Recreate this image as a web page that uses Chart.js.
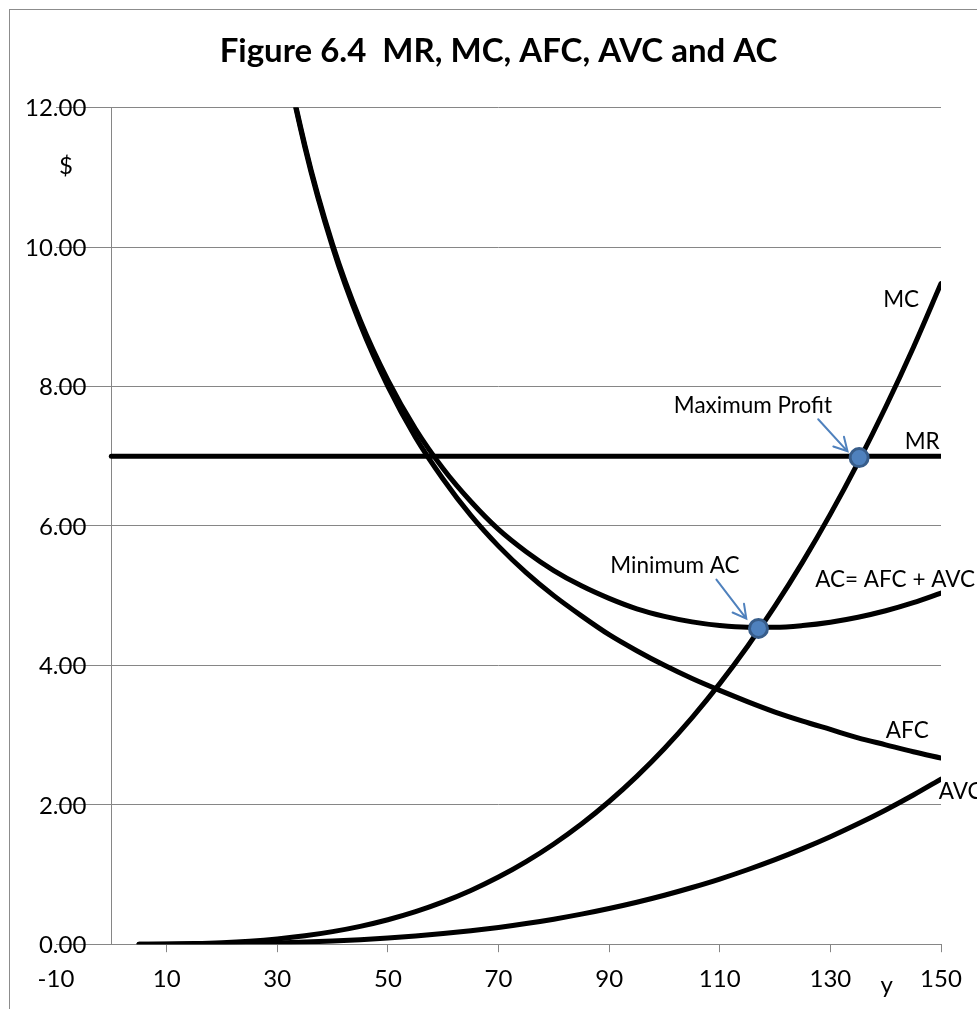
<!DOCTYPE html>
<html>
<head>
<meta charset="utf-8">
<script src="https://cdn.jsdelivr.net/npm/chart.js@4.4.1/dist/chart.umd.min.js"></script>
<style>
  html, body { margin: 0; padding: 0; background: #fff; }
  #wrap { position: relative; width: 977px; height: 1009px; }
</style>
</head>
<body>
<div id="wrap"><canvas id="c" width="977" height="1009"></canvas></div>
<script>
// Output levels y
const outputY = [5,10,15,20,25,30,35,40,45,50,55,60,65,70,75,80,85,90,95,100,105,110,115,120,125,130,135,140,145,150];
// Marginal cost
const mcValues = [0.0004,0.0028,0.0095,0.0225,0.0439,0.0758,0.120,0.180,0.256,0.351,0.467,0.607,0.771,0.963,1.185,1.438,1.724,2.047,2.408,2.808,3.251,3.738,4.271,4.852,5.484,6.169,6.909,7.705,8.560,9.477];
// Average variable cost
const avcValues = [0.0001,0.0007,0.0024,0.0056,0.011,0.019,0.030,0.045,0.064,0.088,0.117,0.152,0.193,0.241,0.296,0.359,0.431,0.512,0.602,0.702,0.813,0.934,1.068,1.213,1.371,1.542,1.727,1.926,2.140,2.369];
// Average fixed cost
const afcValues = [80,40,26.67,20,16,13.33,11.43,10,8.89,8,7.27,6.67,6.15,5.71,5.33,5,4.71,4.44,4.21,4,3.81,3.64,3.48,3.33,3.2,3.08,2.96,2.86,2.76,2.67];
// Average cost
const acValues = [80.0,40.0,26.67,20.01,16.01,13.35,11.46,10.04,8.95,8.09,7.39,6.82,6.35,5.95,5.63,5.36,5.14,4.96,4.81,4.702,4.623,4.570,4.546,4.546,4.571,4.619,4.690,4.783,4.899,5.036];
// Marginal revenue (flat)
const mrX = [0,150];
const mrValues = [7,7];
// Highlighted points: maximum profit, minimum AC
const keyPointX = [135.2, 117.0];
const keyPointY = [6.98, 4.53];
// Axis ticks
const xTickValues = [-10,10,30,50,70,90,110,130,150];
const yTickValues = [0,2,4,6,8,10,12];

const titleText = 'Figure 6.4  MR, MC, AFC, AVC and AC';

// Text annotations (data coordinates of anchor, alphabetic baseline)
const annoTexts = ['MC','MR','Maximum Profit','Minimum AC','AC= AFC + AVC','AFC','AVC','$','y'];
const annoX =     [142.8,146.6,116.0,101.9,141.7,143.9,149.6,-8.2,140.2];
const annoY =     [9.14, 7.11, 7.62, 5.32, 5.12, 2.96, 2.08, 11.05,-0.70];
const annoAlign = ['center','center','center','center','center','center','left','center','center'];

// Arrows (from -> to, data coordinates)
const arrowFromX = [127.8,109.4];
const arrowFromY = [7.53,5.23];
const arrowToX =   [133.1,114.8];
const arrowToY =   [7.07,4.67];

const FONT = 'Lato, "Open Sans", sans-serif';
const GRID = '#868686';

function pts(xs, ys){ return xs.map((x,i)=>({x:x, y:ys[i]})); }

const lineStyle = {
  type: 'line', showLine: true, borderColor: '#000', borderWidth: 5,
  pointRadius: 0, pointHoverRadius: 0, fill: false,
  cubicInterpolationMode: 'monotone', borderCapStyle: 'round', borderJoinStyle: 'round', order: 1
};

const framePlugin = {
  id: 'frame',
  beforeDraw(chart){
    const ctx = chart.ctx;
    ctx.save();
    ctx.fillStyle = '#fff';
    ctx.fillRect(0,0,chart.width,chart.height);
    ctx.strokeStyle = '#8c8c8c';
    ctx.lineWidth = 1;
    ctx.strokeRect(9.5, 9.5, chart.width + 20, chart.height + 20);
    ctx.restore();
  }
};

const annoPlugin = {
  id: 'anno',
  afterDatasetsDraw(chart){
    const ctx = chart.ctx, xs = chart.scales.x, ys = chart.scales.y;
    ctx.save();
    ctx.strokeStyle = '#4F81BD';
    ctx.lineWidth = 2;
    ctx.lineCap = 'round';
    for (let i = 0; i < arrowFromX.length; i++) {
      const x1 = xs.getPixelForValue(arrowFromX[i]), y1 = ys.getPixelForValue(arrowFromY[i]);
      const x2 = xs.getPixelForValue(arrowToX[i]), y2 = ys.getPixelForValue(arrowToY[i]);
      const ang = Math.atan2(y2 - y1, x2 - x1);
      const L = 15, w = 0.5;
      ctx.beginPath();
      ctx.moveTo(x1, y1); ctx.lineTo(x2, y2);
      ctx.moveTo(x2 - L*Math.cos(ang - w), y2 - L*Math.sin(ang - w));
      ctx.lineTo(x2, y2);
      ctx.lineTo(x2 - L*Math.cos(ang + w), y2 - L*Math.sin(ang + w));
      ctx.stroke();
    }
    ctx.restore();
  },
  afterDraw(chart){
    const ctx = chart.ctx, xs = chart.scales.x, ys = chart.scales.y;
    ctx.save();
    ctx.fillStyle = '#000';
    // y-axis tick labels, right-aligned left of the plot, on the gridlines
    ctx.font = '24px ' + FONT;
    ctx.textAlign = 'right';
    ctx.textBaseline = 'middle';
    const labelRight = xs.getPixelForValue(0) - 25;
    yTickValues.forEach(v => ctx.fillText(v.toFixed(2), labelRight, ys.getPixelForValue(v) + 1));
    // annotations
    ctx.textBaseline = 'alphabetic';
    for (let i = 0; i < annoTexts.length; i++) {
      ctx.font = (annoTexts[i] === '$' || annoTexts[i] === 'y' ? '24px ' : '22.5px ') + FONT;
      ctx.textAlign = annoAlign[i];
      ctx.fillText(annoTexts[i], xs.getPixelForValue(annoX[i]), ys.getPixelForValue(annoY[i]));
    }
    ctx.restore();
  }
};

new Chart(document.getElementById('c'), {
  type: 'scatter',
  data: {
    datasets: [
      { label: 'Key points', type: 'scatter', data: pts(keyPointX, keyPointY), pointRadius: 9, pointHoverRadius: 9,
        pointBackgroundColor: '#4F81BD', pointBorderColor: '#385D8A', pointBorderWidth: 3, showLine: false, order: 0 },
      Object.assign({ label: 'MR', data: pts(mrX, mrValues) }, lineStyle, {cubicInterpolationMode: 'default', tension: 0}),
      Object.assign({ label: 'MC', data: pts(outputY, mcValues) }, lineStyle),
      Object.assign({ label: 'AC', data: pts(outputY, acValues) }, lineStyle),
      Object.assign({ label: 'AFC', data: pts(outputY, afcValues) }, lineStyle),
      Object.assign({ label: 'AVC', data: pts(outputY, avcValues) }, lineStyle)
    ]
  },
  options: {
    responsive: false,
    animation: false,
    events: [],
    layout: { padding: { left: 56, right: 36, top: 10, bottom: 2 } },
    plugins: {
      legend: { display: false },
      tooltip: { enabled: false },
      title: {
        display: true, text: titleText, color: '#000',
        font: { family: FONT, size: 33, weight: 'bold' },
        padding: { top: 22, bottom: 36 }
      }
    },
    scales: {
      x: {
        type: 'linear', position: 'bottom', min: -10, max: 150,
        afterBuildTicks: (s) => { s.ticks = xTickValues.map(v => ({value: v})); },
        grid: { drawOnChartArea: false, drawTicks: true, tickLength: 8,
                tickColor: (c) => (c.tick && c.tick.value === -10) ? 'rgba(0,0,0,0)' : GRID, lineWidth: 1 },
        border: { display: true, color: GRID, width: 1 },
        ticks: { color: '#000', font: { family: FONT, size: 24 }, padding: 13, maxRotation: 0, autoSkip: false,
                 callback: (v) => String(v) }
      },
      y: {
        type: 'linear', position: { x: 0 }, min: 0, max: 12,
        afterBuildTicks: (s) => { s.ticks = yTickValues.map(v => ({value: v})); },
        grid: { drawOnChartArea: true, drawTicks: false, color: GRID, lineWidth: 1 },
        border: { display: true, color: GRID, width: 1 },
        ticks: { display: false }
      }
    }
  },
  plugins: [framePlugin, annoPlugin]
});
</script>
</body>
</html>
